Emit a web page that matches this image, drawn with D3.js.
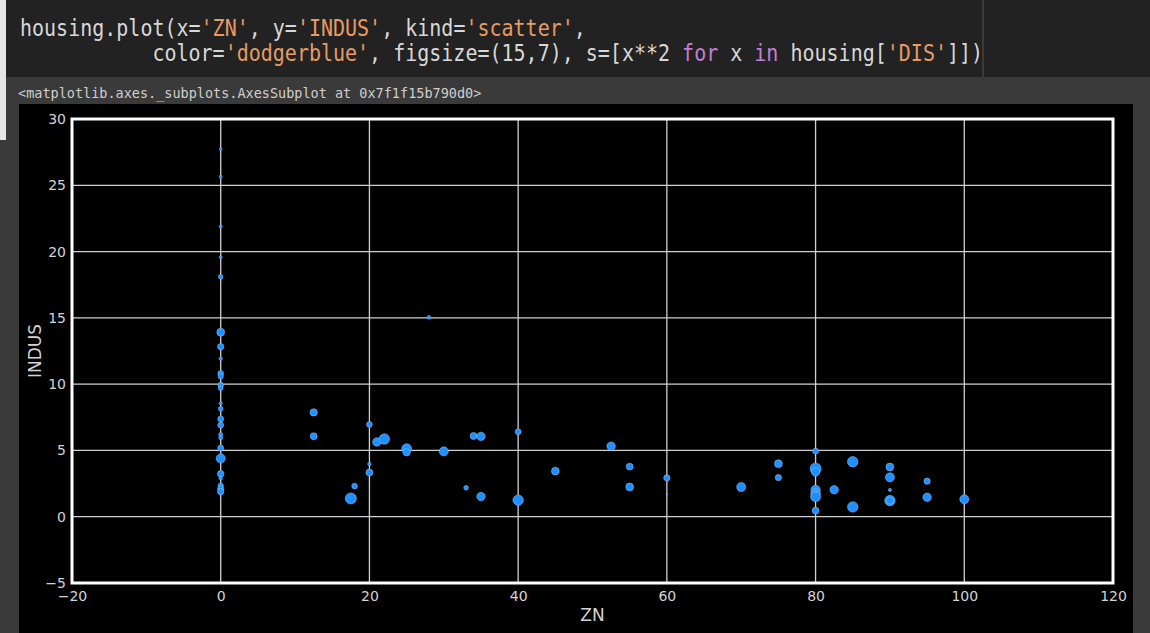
<!DOCTYPE html>
<html>
<head>
<meta charset="utf-8">
<script src="https://cdn.jsdelivr.net/npm/d3@7"></script>
<style>
  html, body { margin: 0; padding: 0; background: #3a3a3a; }
  svg { display: block; }
</style>
</head>
<body>
<svg id="page" width="1150" height="633"></svg>
<script>
// Boston housing: ZN (x), INDUS (y); marker area follows DIS squared
const zn = [
  0, 0, 0, 0, 0, 0, 0, 0, 0, 0, 0, 0, 0, 0, 0, 0, 0, 0, 0, 0, 0, 0, 0, 0, 0, 0,
  12.5, 12.5, 17.5, 18, 20, 20, 20, 21, 22, 25, 25, 28, 30, 33, 34, 35, 35, 40, 40,
  45, 52.5, 55, 55, 60, 60, 70, 75, 75,
  80, 80, 80, 80, 80, 80, 80, 80, 82.5, 85, 85, 90, 90, 90, 90, 90, 95, 95, 100
];
const indus = [
  27.74, 25.65, 21.89, 19.58, 18.10, 13.92, 12.83, 11.93, 10.81, 10.59, 10.01, 9.90, 9.69,
  8.56, 8.14, 7.38, 6.91, 6.20, 5.96, 5.19, 4.40, 3.24, 2.89, 2.34, 2.10, 1.89,
  7.87, 6.07, 1.38, 2.31, 6.96, 3.97, 3.33, 5.64, 5.86, 5.13, 4.86, 15.04, 4.93, 2.18, 6.09, 6.06, 1.52, 6.41, 1.25,
  3.44, 5.32, 3.78, 2.25, 2.93, 1.69, 2.24, 4.00, 2.95,
  4.95, 3.64, 3.37, 2.01, 1.76, 1.52, 1.91, 0.46, 2.03, 4.15, 0.74, 3.75, 2.97, 2.02, 1.22, 1.21, 2.68, 1.47, 1.32
];
const dis = [
  2.2, 2.3, 2.5, 2.3, 3.7, 6.2, 5.0, 2.7, 4.5, 4.2, 3.3, 4.2, 3.7,
  2.5, 3.8, 4.7, 4.7, 3.3, 3.3, 4.7, 7.2, 5.3, 2.8, 4.2, 5.0, 5.0,
  5.8, 5.5, 8.8, 4.5, 4.5, 2.8, 5.5, 6.7, 8.3, 7.8, 5.8, 3.0, 7.2, 3.7, 5.5, 6.7, 6.7, 4.7, 8.3,
  6.2, 6.7, 5.5, 6.2, 5.0, 1.2, 7.2, 6.2, 5.0,
  4.7, 8.8, 6.7, 7.5, 7.5, 8.0, 1.7, 5.5, 6.7, 8.3, 8.3, 6.2, 7.2, 2.5, 8.3, 5.8, 5.0, 6.7, 7.2
];
const xTicks = [-20, 0, 20, 40, 60, 80, 100, 120];
const yTicks = [-5, 0, 5, 10, 15, 20, 25, 30];

const codeLine1 = [
  ["housing.plot(x=", "#d8d8d8"], ["'ZN'", "#e89b62"], [", y=", "#d8d8d8"], ["'INDUS'", "#e89b62"],
  [", kind=", "#d8d8d8"], ["'scatter'", "#e89b62"], [",", "#d8d8d8"]
];
const codeLine2 = [
  ["           color=", "#d8d8d8"], ["'dodgerblue'", "#e89b62"], [", figsize=(15,7), s=[x**2 ", "#d8d8d8"],
  ["for", "#c27fd6"], [" x ", "#d8d8d8"], ["in", "#c27fd6"], [" housing[", "#d8d8d8"], ["'DIS'", "#e89b62"], ["]])", "#d8d8d8"]
];
const outputText = "<matplotlib.axes._subplots.AxesSubplot at 0x7f1f15b790d0>";

const svg = d3.select("#page");

// notebook chrome: code cell, output area, figure canvas
svg.append("rect").attr("x", 0).attr("y", 0).attr("width", 1150).attr("height", 633).attr("fill", "#3a3a3a");
svg.append("rect").attr("x", 0).attr("y", 0).attr("width", 1150).attr("height", 77).attr("fill", "#222222");
svg.append("rect").attr("x", 0).attr("y", 0).attr("width", 6).attr("height", 140).attr("fill", "#e6e6e6");
svg.append("line").attr("x1", 983).attr("x2", 983).attr("y1", 0).attr("y2", 77)
  .attr("stroke", "#444444").attr("stroke-width", 1.5);

// code lines use a slightly tall mono rendering
function codeLine(parts, yPos) {
  const t = svg.append("text").attr("transform", `translate(20,${yPos}) scale(1,1.15)`)
    .attr("font-family", "'DejaVu Sans Mono', monospace").attr("font-size", 20)
    .attr("xml:space", "preserve").style("white-space", "pre");
  parts.forEach(([s, c]) => t.append("tspan").attr("fill", c).text(s));
}
codeLine(codeLine1, 36);
codeLine(codeLine2, 61);

svg.append("text").attr("x", 18).attr("y", 98)
  .attr("font-family", "'DejaVu Sans Mono', monospace").attr("font-size", 13.5)
  .attr("fill", "#cfcfcf").text(outputText);

svg.append("rect").attr("x", 19).attr("y", 104).attr("width", 1114).attr("height", 529).attr("fill", "#000000");

// axes
const plotLeft = 72, plotRight = 1113, plotTop = 119, plotBottom = 583;
const x = d3.scaleLinear().domain([-20, 120]).range([plotLeft, plotRight]);
const y = d3.scaleLinear().domain([-5, 30]).range([plotBottom, plotTop]);
const r = d3.scaleSqrt().domain([0, 100]).range([0, 6.3]); // s = DIS**2

const grid = svg.append("g");
grid.selectAll(".gx").data(xTicks.filter(d => d > -20 && d < 120)).join("line")
  .attr("x1", d => x(d)).attr("x2", d => x(d)).attr("y1", plotTop).attr("y2", plotBottom)
  .attr("stroke", "#d0d0d0").attr("stroke-width", 1.3);
grid.selectAll(".gy").data(yTicks.filter(d => d > -5 && d < 30)).join("line")
  .attr("x1", plotLeft).attr("x2", plotRight).attr("y1", d => y(d)).attr("y2", d => y(d))
  .attr("stroke", "#d0d0d0").attr("stroke-width", 1.3);

const fmt = d => d < 0 ? "\u2212" + Math.abs(d) : String(d);

const xAxis = svg.append("g").attr("transform", `translate(0,${plotBottom})`)
  .call(d3.axisBottom(x).tickValues(xTicks).tickFormat(fmt).tickSize(0).tickPadding(5));
const yAxis = svg.append("g").attr("transform", `translate(${plotLeft},0)`)
  .call(d3.axisLeft(y).tickValues(yTicks).tickFormat(fmt).tickSize(0).tickPadding(6));
[xAxis, yAxis].forEach(a => {
  a.select(".domain").remove();
  a.selectAll("text").attr("fill", "#d4d4d4")
    .attr("font-family", "'DejaVu Sans', sans-serif").attr("font-size", 14);
});
xAxis.selectAll("text").attr("dy", "0.95em");

// points
const pts = zn.map((v, i) => ({ zn: v, indus: indus[i], dis: dis[i] }));
svg.append("g").selectAll("circle").data(pts).join("circle")
  .attr("cx", d => x(d.zn)).attr("cy", d => y(d.indus)).attr("r", d => r(d.dis * d.dis))
  .attr("fill", "#1e90ff").attr("stroke", "#9fcfff").attr("stroke-opacity", 0.6).attr("stroke-width", 0.8);

// frame
svg.append("rect").attr("x", plotLeft).attr("y", plotTop).attr("width", plotRight - plotLeft).attr("height", plotBottom - plotTop)
  .attr("fill", "none").attr("stroke", "#ffffff").attr("stroke-width", 3);

// axis titles
svg.append("text").attr("x", (plotLeft + plotRight) / 2).attr("y", 621).attr("text-anchor", "middle")
  .attr("font-family", "'DejaVu Sans', sans-serif").attr("font-size", 17).attr("fill", "#d4d4d4").text("ZN");
svg.append("text").attr("transform", `translate(41,${(plotTop + plotBottom) / 2}) rotate(-90)`).attr("text-anchor", "middle")
  .attr("font-family", "'DejaVu Sans', sans-serif").attr("font-size", 17).attr("fill", "#d4d4d4").text("INDUS");
</script>
</body>
</html>
